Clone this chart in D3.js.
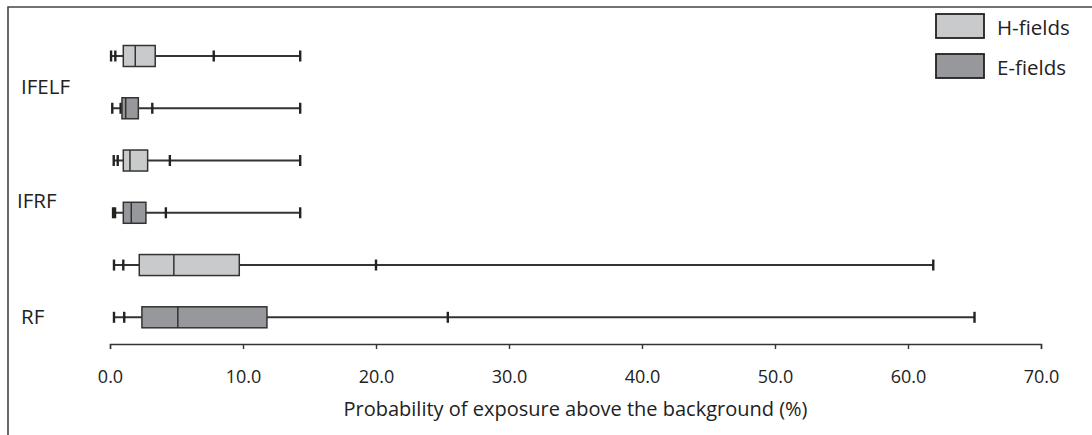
<!DOCTYPE html>
<html>
<head>
<meta charset="utf-8">
<script src="https://cdn.jsdelivr.net/npm/d3@7"></script>
<style>
  html, body { margin: 0; padding: 0; background: #fff; }
  svg { display: block; font-family: "Open Sans", sans-serif; }
</style>
</head>
<body>
<svg id="chart" width="1092" height="435"></svg>
<script>
// ---- Data ----
const groups = ["IFELF", "IFRF", "RF"];
const fields = ["H-fields", "E-fields"];
const rowGroup = ["IFELF", "IFELF", "IFRF", "IFRF", "RF", "RF"];
const rowField = ["H-fields", "E-fields", "H-fields", "E-fields", "H-fields", "E-fields"];
const minV   = [0.08, 0.17, 0.28, 0.23, 0.3, 0.3];
const p5V    = [0.4, 0.8, 0.58, 0.38, 1.0, 1.07];
const q1V    = [1.0, 0.9, 1.0, 1.0, 2.2, 2.4];
const medV   = [1.9, 1.18, 1.5, 1.6, 4.8, 5.1];
const q3V    = [3.4, 2.13, 2.83, 2.7, 9.72, 11.8];
const p95V   = [7.8, 3.18, 4.5, 4.2, 20.0, 25.4];
const maxV   = [14.3, 14.3, 14.3, 14.3, 61.9, 65.0];
const xTicks = [0, 10, 20, 30, 40, 50, 60, 70];
const xTitle = "Probability of exposure above the background (%)";

// ---- Drawing ----
const svg = d3.select("#chart");
const fill = d3.scaleOrdinal().domain(fields).range(["#c9cacc", "#97989b"]);
const stroke = "#333";

const x = d3.scaleLinear().domain([0, 70]).range([110, 1041]);
const rows = d3.range(rowGroup.length);
const y = d3.scalePoint().domain(rows).range([56, 317.3]);

// frame
svg.append("path")
  .attr("d", "M8,435 L8,7 L1092,7")
  .attr("fill", "none").attr("stroke", "#444").attr("stroke-width", 1.6);

// axis
const axisG = svg.append("g").attr("transform", "translate(0,344)")
  .call(d3.axisBottom(x).tickValues(xTicks).tickFormat(d3.format(".1f")).tickSizeOuter(0).tickSize(5).tickPadding(21));
axisG.select(".domain").attr("stroke", "#333").attr("stroke-width", 1.4);
axisG.selectAll(".tick line").attr("stroke", "#333").attr("stroke-width", 1.4);
axisG.selectAll(".tick text").attr("font-size", 18).attr("fill", "#222")
  .attr("font-family", "'Open Sans', sans-serif");

svg.append("text")
  .attr("x", (x(0) + x(70)) / 2).attr("y", 416)
  .attr("text-anchor", "middle").attr("font-size", 20).attr("fill", "#222")
  .text(xTitle);

// boxes
const boxH = 21, tickH = 11;
const g = svg.append("g");
rows.forEach(i => {
  const cy = y(i);
  const row = g.append("g");
  row.append("line")
    .attr("x1", x(minV[i])).attr("x2", x(maxV[i]))
    .attr("y1", cy).attr("y2", cy)
    .attr("stroke", stroke).attr("stroke-width", 2);
  [minV[i], p5V[i], p95V[i], maxV[i]].forEach(v => {
    row.append("line")
      .attr("x1", x(v)).attr("x2", x(v))
      .attr("y1", cy - tickH / 2).attr("y2", cy + tickH / 2)
      .attr("stroke", "#222").attr("stroke-width", 2.4);
  });
  row.append("rect")
    .attr("x", x(q1V[i])).attr("width", x(q3V[i]) - x(q1V[i]))
    .attr("y", cy - boxH / 2).attr("height", boxH)
    .attr("fill", fill(rowField[i])).attr("stroke", stroke).attr("stroke-width", 1.5);
  row.append("line")
    .attr("x1", x(medV[i])).attr("x2", x(medV[i]))
    .attr("y1", cy - boxH / 2).attr("y2", cy + boxH / 2)
    .attr("stroke", stroke).attr("stroke-width", 1.5);
});

// category labels
const labelPos = { "IFELF": { dx: 21, dy: 4 }, "IFRF": { dx: 17, dy: 13 }, "RF": { dx: 21, dy: 25 } };
groups.forEach(gName => {
  const idx = rows.filter(i => rowGroup[i] === gName);
  const mid = d3.mean(idx, i => y(i));
  svg.append("text")
    .attr("x", labelPos[gName].dx).attr("y", mid + labelPos[gName].dy)
    .attr("dominant-baseline", "central")
    .attr("font-size", 20.5).attr("fill", "#222")
    .text(gName);
});

// legend
const leg = svg.append("g").attr("transform", "translate(936,14)");
fields.forEach((f, i) => {
  const lg = leg.append("g").attr("transform", `translate(0,${i * 40})`);
  lg.append("rect").attr("x", 0).attr("y", 0).attr("width", 48).attr("height", 24)
    .attr("fill", fill(f)).attr("stroke", "#222").attr("stroke-width", 1.8);
  lg.append("text").attr("x", 61).attr("y", 13)
    .attr("dominant-baseline", "central")
    .attr("font-size", 20.5).attr("fill", "#222").text(f);
});
</script>
</body>
</html>
